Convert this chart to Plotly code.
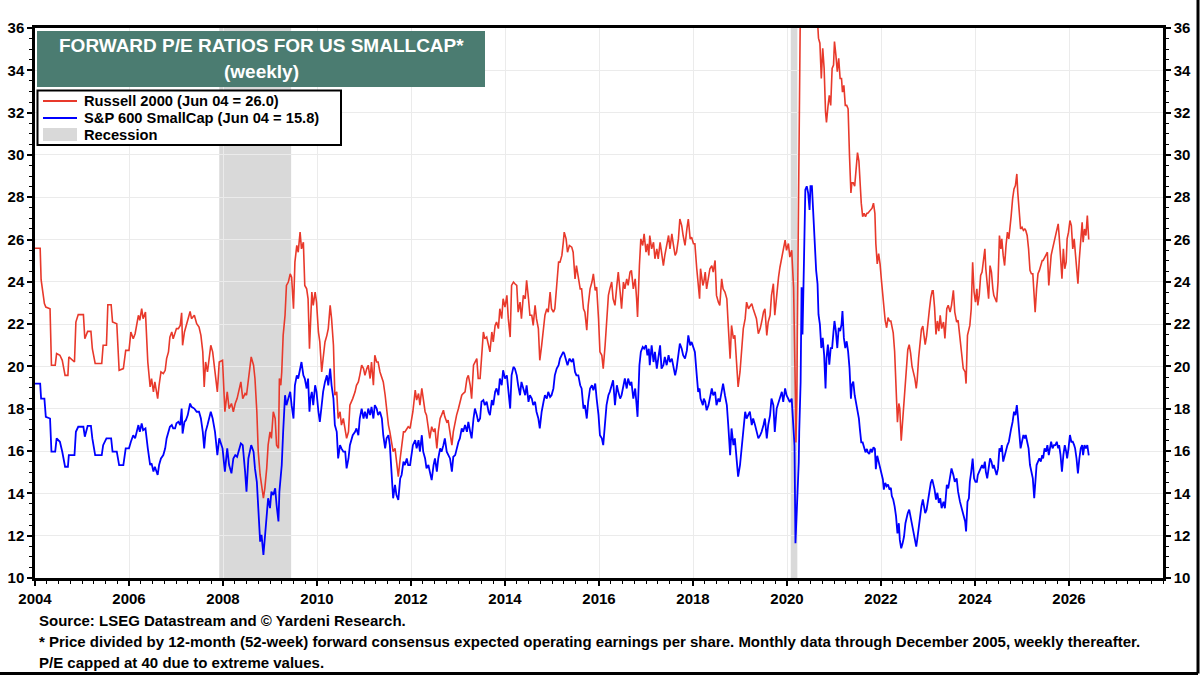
import plotly.graph_objects as go

# Forward P/E. Monthly through 2005, weekly after.
# x values are decimal years.
weeks_2004_2007 = [
    2004.00, 2004.11, 2004.13, 2004.20, 2004.23, 2004.32, 2004.35, 2004.43, 2004.46, 2004.53,
    2004.58, 2004.64, 2004.70, 2004.72, 2004.84, 2004.87, 2004.92, 2005.03, 2005.06, 2005.12,
    2005.19, 2005.22, 2005.28, 2005.42, 2005.45, 2005.52, 2005.55, 2005.62, 2005.65, 2005.74,
    2005.79, 2005.88, 2005.93, 2006.00, 2006.04, 2006.09, 2006.13, 2006.16, 2006.20, 2006.23,
    2006.27, 2006.30, 2006.35, 2006.40, 2006.45, 2006.48, 2006.52, 2006.55, 2006.61, 2006.64,
    2006.68, 2006.73, 2006.77, 2006.80, 2006.84, 2006.87, 2006.91, 2006.94, 2006.98, 2007.01,
    2007.05, 2007.09, 2007.12, 2007.14, 2007.18, 2007.21, 2007.25, 2007.30, 2007.33, 2007.39,
    2007.44, 2007.49, 2007.53, 2007.57, 2007.60, 2007.63, 2007.67, 2007.70, 2007.74, 2007.78,
    2007.83, 2007.88, 2007.92,
]
russell_2004_2007 = [
    25.59, 25.59, 24.10, 22.97, 22.81, 22.73, 20.06, 20.06, 20.61, 20.53,
    20.29, 19.58, 19.58, 20.45, 20.21, 22.10, 22.45, 22.45, 21.31, 21.66,
    21.66, 20.84, 20.14, 20.14, 21.00, 21.00, 22.92, 22.92, 22.10, 22.02,
    19.82, 19.90, 20.76, 20.76, 21.63, 21.31, 21.55, 21.94, 22.42, 22.18,
    22.73, 22.26, 22.57, 20.21, 19.03, 19.43, 18.80, 19.27, 18.48, 19.11,
    19.74, 19.66, 19.82, 20.37, 20.69, 21.39, 21.63, 21.31, 21.55, 21.79,
    21.79, 21.94, 22.54, 21.00, 21.63, 21.86, 22.18, 22.60, 22.26, 22.42,
    22.02, 21.86, 21.47, 20.69, 19.03, 20.21, 19.74, 20.37, 21.00, 20.69,
    19.74, 18.80, 20.21,
]
sp600_2004_2007 = [
    19.19, 19.19, 18.48, 18.48, 17.62, 17.54, 15.97, 15.97, 16.60, 16.44,
    15.97, 15.26, 15.26, 15.81, 15.81, 16.91, 17.15, 17.15, 16.68, 17.19,
    17.19, 16.60, 15.81, 15.81, 16.28, 16.60, 16.60, 16.60, 15.97, 15.97,
    15.34, 15.34, 16.13, 16.13, 16.44, 16.75, 16.60, 16.91, 17.23, 16.91,
    17.31, 16.99, 17.07, 16.13, 15.34, 15.42, 15.03, 15.26, 14.87, 15.34,
    15.65, 15.81, 16.13, 16.60, 16.91, 17.15, 17.23, 17.07, 17.07, 17.31,
    17.38, 17.23, 18.01, 16.83, 17.38, 17.46, 17.70, 18.25, 18.09, 18.01,
    17.86, 17.86, 17.54, 16.91, 16.13, 16.91, 17.23, 17.54, 17.86, 17.54,
    16.91, 15.81, 16.60,
]

weeks_2008_2011 = [
    2007.99, 2008.04, 2008.09, 2008.13, 2008.18, 2008.22, 2008.26, 2008.30, 2008.38, 2008.42,
    2008.47, 2008.50, 2008.54, 2008.60, 2008.65, 2008.68, 2008.72, 2008.75, 2008.79, 2008.82,
    2008.86, 2008.89, 2008.93, 2008.96, 2009.00, 2009.03, 2009.07, 2009.11, 2009.14, 2009.18,
    2009.20, 2009.23, 2009.25, 2009.28, 2009.32, 2009.35, 2009.39, 2009.43, 2009.46, 2009.50,
    2009.53, 2009.57, 2009.60, 2009.64, 2009.67, 2009.71, 2009.74, 2009.78, 2009.81, 2009.84,
    2009.86, 2009.89, 2009.92, 2009.96, 2009.99, 2010.03, 2010.06, 2010.10, 2010.13, 2010.17,
    2010.21, 2010.24, 2010.28, 2010.31, 2010.35, 2010.38, 2010.42, 2010.45, 2010.49, 2010.52,
    2010.56, 2010.60, 2010.63, 2010.67, 2010.70, 2010.76, 2010.81, 2010.84, 2010.88, 2010.91,
    2010.95, 2010.99, 2011.02, 2011.06, 2011.09, 2011.13, 2011.16, 2011.20, 2011.23, 2011.27,
    2011.30, 2011.34, 2011.38, 2011.41, 2011.45, 2011.48, 2011.52, 2011.55, 2011.59, 2011.62,
    2011.66, 2011.69, 2011.73, 2011.77, 2011.80, 2011.84, 2011.87, 2011.91, 2011.94,
]
russell_2008_2011 = [
    20.29, 17.86, 18.80, 18.01, 18.25, 17.86, 18.25, 18.48, 19.27, 18.48,
    18.72, 18.64, 19.43, 20.45, 20.06, 19.43, 17.86, 15.97, 14.87, 14.40,
    13.77, 14.24, 15.18, 16.28, 16.91, 16.60, 17.86, 17.54, 16.28, 16.13,
    19.43, 19.11, 19.74, 21.47, 22.42, 23.83, 23.99, 24.38, 24.22, 22.73,
    24.93, 25.72, 25.40, 26.35, 25.56, 25.87, 23.83, 23.67, 23.20, 20.84,
    22.26, 23.52, 22.89, 23.52, 23.04, 21.63, 21.16, 19.74, 20.37, 21.16,
    21.47, 21.79, 22.89, 22.26, 21.00, 18.64, 18.80, 17.54, 17.86, 17.23,
    17.54, 16.91, 16.60, 16.91, 18.17, 18.48, 18.80, 19.11, 19.27, 19.58,
    20.06, 19.90, 19.58, 19.90, 20.06, 19.43, 20.21, 19.11, 20.53, 20.21,
    20.21, 19.74, 19.43, 19.27, 18.64, 17.86, 17.23, 16.91, 16.44, 15.97,
    16.13, 15.50, 14.79, 15.65, 16.28, 16.91, 16.91, 17.07, 17.15,
]
sp600_2008_2011 = [
    16.13, 15.03, 16.13, 15.34, 14.95, 15.65, 15.81, 15.73, 16.36, 16.28,
    15.03, 14.08, 15.65, 16.28, 15.97, 15.18, 14.55, 13.14, 11.72, 12.04,
    11.09, 11.88, 13.14, 13.77, 13.30, 14.08, 13.92, 14.24, 13.45, 12.67,
    14.08, 14.87, 15.34, 16.91, 18.64, 18.17, 18.48, 18.80, 18.17, 17.54,
    19.11, 19.58, 19.43, 19.90, 20.21, 19.58, 19.43, 18.96, 19.43, 17.86,
    18.48, 18.80, 18.17, 19.11, 18.80, 17.86, 17.38, 18.17, 18.80, 19.27,
    19.58, 19.11, 19.90, 19.11, 18.48, 17.23, 16.91, 15.65, 16.28, 16.13,
    15.97, 15.97, 15.18, 15.65, 16.28, 16.75, 16.91, 17.07, 16.75, 17.54,
    18.01, 17.54, 17.86, 17.54, 18.01, 17.70, 18.09, 17.54, 18.17, 18.01,
    17.70, 17.86, 17.54, 16.75, 16.13, 16.60, 16.75, 16.28, 15.03, 13.77,
    14.40, 13.92, 13.69, 14.71, 14.87, 15.50, 15.34, 15.65, 15.34,
]

weeks_2012_2016 = [
    2011.98, 2012.04, 2012.09, 2012.12, 2012.16, 2012.19, 2012.23, 2012.26, 2012.30, 2012.33,
    2012.37, 2012.40, 2012.44, 2012.48, 2012.51, 2012.55, 2012.58, 2012.62, 2012.65, 2012.69,
    2012.72, 2012.76, 2012.79, 2012.83, 2012.87, 2012.90, 2012.94, 2012.97, 2013.01, 2013.04,
    2013.08, 2013.11, 2013.15, 2013.19, 2013.22, 2013.26, 2013.29, 2013.33, 2013.36, 2013.40,
    2013.43, 2013.47, 2013.50, 2013.54, 2013.57, 2013.61, 2013.65, 2013.68, 2013.72, 2013.75,
    2013.79, 2013.82, 2013.86, 2013.89, 2013.93, 2013.96, 2014.00, 2014.04, 2014.07, 2014.11,
    2014.14, 2014.18, 2014.21, 2014.25, 2014.28, 2014.32, 2014.35, 2014.39, 2014.43, 2014.46,
    2014.50, 2014.53, 2014.57, 2014.60, 2014.64, 2014.67, 2014.71, 2014.74, 2014.78, 2014.82,
    2014.85, 2014.89, 2014.92, 2014.96, 2014.99, 2015.03, 2015.06, 2015.10, 2015.14, 2015.17,
    2015.21, 2015.24, 2015.26, 2015.30, 2015.33, 2015.37, 2015.42, 2015.45, 2015.49, 2015.52,
    2015.56, 2015.60, 2015.63, 2015.67, 2015.70, 2015.74, 2015.77, 2015.81, 2015.85, 2015.88,
    2015.92, 2015.95, 2015.99, 2016.02, 2016.06, 2016.09, 2016.13, 2016.16,
]
russell_2012_2016 = [
    17.07, 17.86, 18.88, 18.41, 18.72, 18.17, 18.96, 18.48, 17.86, 17.70,
    16.91, 16.60, 17.15, 16.91, 17.07, 16.13, 16.91, 17.54, 17.70, 17.93,
    17.62, 17.38, 17.46, 16.91, 16.28, 16.91, 17.38, 17.70, 18.01, 18.33,
    18.64, 18.72, 18.80, 19.43, 19.58, 19.11, 18.48, 20.06, 20.21, 20.37,
    19.43, 19.43, 20.37, 21.63, 21.31, 21.39, 21.00, 20.69, 21.63, 21.16,
    21.94, 22.10, 21.79, 22.73, 22.26, 23.20, 22.81, 23.36, 22.26, 21.39,
    23.83, 23.99, 23.91, 23.83, 22.57, 23.04, 22.26, 23.36, 23.20, 24.07,
    23.20, 22.42, 22.42, 21.94, 22.89, 22.26, 21.79, 20.29, 21.00, 22.02,
    22.42, 22.73, 22.57, 23.52, 22.73, 22.57, 22.73, 23.83, 24.93, 24.93,
    25.25, 25.87, 26.35, 26.03, 25.40, 25.72, 25.64, 25.40, 24.14, 24.77,
    24.30, 23.67, 23.67, 22.73, 22.57, 21.71, 22.89, 23.67, 23.99, 24.38,
    23.59, 23.75, 22.26, 20.69, 20.53, 19.90, 21.00, 22.26,
]
sp600_2012_2016 = [
    15.34, 16.28, 16.52, 16.13, 16.52, 15.97, 16.75, 15.97, 15.65, 15.18,
    15.34, 15.03, 14.63, 15.34, 15.65, 15.03, 15.65, 16.13, 15.97, 16.28,
    16.60, 15.97, 15.81, 15.65, 15.03, 15.73, 15.81, 16.13, 16.44, 16.60,
    17.07, 16.91, 17.23, 16.91, 17.38, 16.91, 16.60, 17.54, 18.01, 17.70,
    17.38, 17.54, 18.33, 18.41, 18.17, 18.33, 17.86, 17.70, 18.41, 18.17,
    18.80, 18.96, 18.64, 19.43, 19.11, 19.82, 19.43, 19.58, 18.80, 18.01,
    19.58, 19.98, 19.90, 19.58, 19.11, 18.64, 19.27, 18.96, 18.64, 19.11,
    18.33, 18.64, 18.48, 18.17, 18.33, 17.86, 17.54, 17.07, 17.86, 18.33,
    18.64, 18.48, 18.80, 18.56, 18.64, 18.96, 19.58, 19.90, 20.06, 20.37,
    20.53, 20.69, 20.61, 20.29, 20.06, 20.37, 20.21, 20.37, 19.74, 19.58,
    19.58, 19.11, 18.96, 18.01, 18.17, 17.54, 18.33, 18.96, 19.11, 18.88,
    19.19, 18.48, 17.70, 16.75, 16.60, 16.28, 17.23, 18.17,
]

weeks_2016_2019 = [
    2016.20, 2016.23, 2016.27, 2016.30, 2016.34, 2016.38, 2016.41, 2016.45, 2016.48, 2016.52,
    2016.55, 2016.59, 2016.62, 2016.66, 2016.69, 2016.73, 2016.77, 2016.80, 2016.82, 2016.86,
    2016.89, 2016.93, 2016.96, 2017.00, 2017.03, 2017.06, 2017.08, 2017.12, 2017.16, 2017.19,
    2017.23, 2017.26, 2017.30, 2017.33, 2017.37, 2017.40, 2017.44, 2017.48, 2017.51, 2017.55,
    2017.58, 2017.62, 2017.65, 2017.69, 2017.72, 2017.76, 2017.79, 2017.83, 2017.87, 2017.90,
    2017.94, 2017.97, 2018.01, 2018.04, 2018.08, 2018.11, 2018.14, 2018.16, 2018.21, 2018.23,
    2018.26, 2018.29, 2018.33, 2018.36, 2018.40, 2018.43, 2018.47, 2018.50, 2018.54, 2018.57,
    2018.61, 2018.64, 2018.68, 2018.72, 2018.75, 2018.79, 2018.82, 2018.86, 2018.89, 2018.93,
    2018.96, 2019.00, 2019.04, 2019.07, 2019.11, 2019.14, 2019.18, 2019.21, 2019.25, 2019.28,
    2019.32, 2019.35, 2019.39, 2019.43, 2019.46, 2019.50, 2019.53, 2019.57, 2019.60, 2019.64,
    2019.67, 2019.71, 2019.74, 2019.78, 2019.82,
]
russell_2016_2019 = [
    23.36, 23.67, 23.99, 23.20, 22.89, 23.83, 24.46, 23.52, 22.73, 23.99,
    23.67, 24.14, 23.83, 24.46, 24.54, 23.67, 24.14, 23.20, 22.34, 24.77,
    26.03, 25.72, 26.27, 25.40, 25.80, 25.25, 26.19, 25.56, 25.87, 25.09,
    25.56, 25.09, 25.87, 25.40, 24.77, 25.25, 25.72, 26.19, 25.56, 26.27,
    25.80, 25.25, 25.40, 26.03, 26.97, 26.66, 26.19, 25.72, 26.50, 26.97,
    26.03, 26.11, 25.80, 25.80, 24.62, 23.67, 23.20, 24.62, 23.83, 23.99,
    24.46, 23.67, 24.14, 24.62, 24.77, 24.46, 25.01, 23.36, 23.04, 22.89,
    24.14, 23.67, 23.52, 23.20, 21.94, 20.37, 21.94, 21.31, 21.47, 20.21,
    19.03, 19.74, 21.00, 21.79, 22.26, 23.04, 22.73, 22.81, 22.97, 22.73,
    22.42, 22.26, 21.55, 21.79, 22.10, 22.57, 22.73, 21.47, 22.10, 22.42,
    23.36, 23.91, 22.42, 23.52, 24.22,
]
sp600_2016_2019 = [
    18.64, 18.80, 19.11, 19.35, 18.17, 19.11, 18.80, 18.48, 18.64, 19.11,
    19.43, 18.96, 19.43, 19.11, 19.27, 18.48, 18.96, 18.17, 17.62, 20.06,
    20.69, 20.92, 20.84, 21.00, 20.53, 20.84, 20.06, 21.00, 20.21, 20.69,
    19.90, 20.37, 21.00, 19.90, 20.06, 20.45, 20.06, 20.53, 20.21, 20.37,
    20.06, 19.58, 19.90, 20.53, 21.08, 20.84, 20.53, 20.37, 20.76, 21.47,
    21.00, 21.16, 20.84, 20.69, 19.58, 18.80, 18.96, 18.48, 18.17, 18.48,
    18.33, 17.93, 18.17, 18.48, 18.96, 18.64, 18.80, 18.17, 18.48, 18.33,
    18.96, 19.19, 18.64, 18.17, 17.23, 15.81, 17.07, 16.28, 16.60, 15.65,
    14.79, 15.34, 16.28, 17.07, 17.86, 17.54, 17.70, 17.86, 17.23, 17.54,
    17.23, 16.91, 16.60, 16.75, 16.91, 17.23, 17.54, 16.60, 17.23, 17.70,
    18.48, 18.17, 16.91, 18.01, 18.33,
]

# Russell 2000 is capped at 40 in mid-2020 (above the 36 axis top)
weeks_2020_2023 = [
    2019.85, 2019.89, 2019.92, 2019.96, 2019.99, 2020.03, 2020.06, 2020.10, 2020.14, 2020.16,
    2020.18, 2020.19, 2020.21, 2020.22, 2020.23, 2020.25, 2020.26, 2020.28, 2020.29, 2020.31,
    2020.33, 2020.36, 2020.39, 2020.42, 2020.45, 2020.48, 2020.50, 2020.53, 2020.56, 2020.59,
    2020.62, 2020.65, 2020.67, 2020.70, 2020.73, 2020.76, 2020.79, 2020.82, 2020.84, 2020.87,
    2020.90, 2020.93, 2020.96, 2020.99, 2021.01, 2021.04, 2021.07, 2021.10, 2021.13, 2021.16,
    2021.18, 2021.21, 2021.24, 2021.27, 2021.30, 2021.33, 2021.36, 2021.38, 2021.41, 2021.44,
    2021.47, 2021.50, 2021.53, 2021.55, 2021.58, 2021.61, 2021.64, 2021.67, 2021.70, 2021.72,
    2021.75, 2021.78, 2021.81, 2021.84, 2021.87, 2021.89, 2021.92, 2021.95, 2021.98, 2022.01,
    2022.04, 2022.06, 2022.09, 2022.12, 2022.15, 2022.18, 2022.21, 2022.23, 2022.26, 2022.29,
    2022.32, 2022.35, 2022.38, 2022.40, 2022.43, 2022.46, 2022.49, 2022.52, 2022.55, 2022.57,
    2022.60, 2022.63, 2022.66, 2022.69, 2022.72, 2022.75, 2022.77, 2022.80, 2022.83, 2022.86,
    2022.89, 2022.92, 2022.94, 2022.97, 2023.00, 2023.03, 2023.06, 2023.09, 2023.11, 2023.14,
    2023.17, 2023.20, 2023.23,
]
russell_2020_2023 = [
    24.69, 25.17, 25.49, 25.97, 25.49, 25.81, 25.17, 25.49, 23.74, 21.67,
    18.48, 16.41, 18.48, 21.67, 24.85, 28.04, 32.02, 36.00, 38.00, 40.00,
    40.00, 40.00, 40.00, 40.00, 40.00, 40.00, 40.00, 40.00, 40.00, 40.00,
    37.50, 36.00, 35.52, 35.28, 33.61, 35.04, 34.09, 32.02, 31.54, 32.26,
    32.82, 32.34, 34.09, 34.25, 35.36, 34.73, 33.93, 34.57, 33.61, 33.61,
    32.97, 33.29, 32.34, 32.34, 32.18, 29.95, 28.20, 28.68, 28.68, 28.52,
    29.31, 30.11, 29.71, 28.68, 27.72, 27.08, 27.24, 27.08, 27.24, 27.24,
    27.32, 27.40, 27.48, 27.72, 27.24, 25.81, 24.85, 25.33, 24.85, 24.06,
    23.10, 22.86, 22.15, 21.83, 22.31, 22.15, 22.15, 21.83, 21.59, 20.71,
    18.64, 17.37, 18.25, 18.01, 16.49, 17.53, 18.48, 19.28, 20.32, 20.79,
    21.03, 20.63, 20.00, 19.76, 19.44, 18.96, 19.36, 20.39, 21.03, 21.75,
    21.91, 21.43, 21.03, 21.43, 22.23, 22.70, 23.26, 23.58, 23.58, 22.78,
    21.51, 22.15, 21.67,
]
sp600_2020_2023 = [
    18.48, 18.80, 18.32, 18.96, 18.64, 18.48, 18.32, 18.48, 17.05, 16.25,
    11.64, 12.11, 12.91, 13.55, 14.03, 15.46, 16.89, 18.17, 19.28, 23.74,
    21.51, 24.85, 28.36, 28.52, 28.20, 27.40, 28.52, 28.52, 27.08, 25.97,
    24.54, 23.90, 22.46, 21.99, 20.87, 21.35, 20.55, 18.96, 20.39, 21.03,
    20.08, 20.87, 20.87, 21.67, 22.15, 21.67, 20.87, 21.83, 21.67, 21.99,
    22.62, 21.35, 20.87, 21.19, 20.71, 19.92, 18.48, 19.12, 19.28, 18.64,
    18.32, 17.85, 17.53, 17.05, 16.41, 16.41, 16.18, 15.94, 16.10, 15.94,
    15.86, 16.10, 15.94, 16.18, 16.10, 15.14, 15.78, 15.46, 15.14, 14.98,
    14.66, 14.18, 14.50, 14.34, 14.42, 14.18, 14.26, 13.87, 13.71, 13.39,
    12.91, 12.11, 12.59, 11.80, 11.40, 11.64, 11.96, 12.59, 12.91, 13.07,
    13.23, 12.91, 12.43, 12.11, 11.80, 11.48, 11.80, 12.43, 13.07, 13.39,
    13.71, 13.39, 13.07, 13.23, 13.71, 14.18, 14.50, 14.66, 14.50, 14.18,
    13.71, 14.03, 13.55,
]

weeks_2023_2026 = [
    2023.26, 2023.29, 2023.33, 2023.36, 2023.40, 2023.43, 2023.47, 2023.50, 2023.54, 2023.57,
    2023.61, 2023.64, 2023.68, 2023.72, 2023.75, 2023.79, 2023.81, 2023.84, 2023.87, 2023.89,
    2023.92, 2023.95, 2023.98, 2024.01, 2024.04, 2024.06, 2024.09, 2024.12, 2024.15, 2024.18,
    2024.21, 2024.23, 2024.26, 2024.29, 2024.32, 2024.35, 2024.38, 2024.40, 2024.43, 2024.46,
    2024.49, 2024.52, 2024.55, 2024.57, 2024.60, 2024.63, 2024.66, 2024.69, 2024.72, 2024.74,
    2024.77, 2024.80, 2024.83, 2024.86, 2024.89, 2024.91, 2024.94, 2024.97, 2025.00, 2025.03,
    2025.06, 2025.08, 2025.11, 2025.14, 2025.17, 2025.20, 2025.23, 2025.26, 2025.28, 2025.31,
    2025.34, 2025.37, 2025.40, 2025.43, 2025.45, 2025.48, 2025.51, 2025.54, 2025.57, 2025.60,
    2025.62, 2025.65, 2025.68, 2025.71, 2025.74, 2025.77, 2025.79, 2025.82, 2025.85, 2025.88,
    2025.91, 2025.94, 2025.96, 2025.99, 2026.02, 2026.05, 2026.08, 2026.11, 2026.13, 2026.16,
    2026.19, 2026.22, 2026.25, 2026.28, 2026.30, 2026.33, 2026.36, 2026.39, 2026.42,
]
russell_2023_2026 = [
    22.42, 21.79, 22.10, 21.32, 22.73, 22.89, 22.57, 22.89, 23.60, 22.57,
    22.10, 22.18, 21.32, 20.69, 19.90, 19.74, 19.19, 21.47, 21.79, 21.94,
    22.73, 24.93, 23.52, 23.04, 23.67, 22.89, 23.36, 24.30, 24.46, 25.09,
    25.56, 24.62, 23.67, 23.20, 24.77, 24.46, 23.67, 23.36, 23.20, 23.04,
    23.99, 26.19, 25.56, 26.03, 25.25, 24.77, 25.72, 26.35, 26.03, 26.66,
    27.13, 27.92, 28.39, 28.55, 29.10, 28.23, 27.13, 26.50, 26.58, 26.43,
    26.50, 26.43, 26.19, 25.56, 24.54, 24.38, 24.38, 23.04, 22.57, 23.67,
    24.38, 24.54, 24.77, 25.01, 25.01, 25.17, 25.32, 25.40, 23.83, 24.77,
    25.25, 25.56, 25.87, 26.03, 26.50, 26.74, 26.19, 25.09, 24.15, 25.56,
    24.62, 24.93, 26.03, 26.35, 26.90, 26.66, 25.56, 26.03, 25.56, 24.77,
    23.91, 25.09, 26.03, 26.82, 25.87, 26.50, 26.19, 27.13, 26.00,
]
sp600_2023_2026 = [
    13.77, 13.30, 13.61, 13.30, 14.40, 14.24, 14.71, 15.18, 14.87, 14.55,
    14.71, 14.08, 13.61, 13.30, 12.98, 12.67, 12.20, 13.61, 13.77, 14.55,
    15.03, 15.65, 14.71, 14.55, 14.55, 14.87, 15.03, 15.18, 15.34, 15.18,
    15.50, 15.03, 14.71, 15.18, 15.65, 15.50, 15.18, 15.34, 15.03, 14.87,
    15.18, 16.13, 15.97, 16.28, 15.50, 15.81, 16.13, 16.28, 16.44, 16.76,
    17.07, 17.38, 17.86, 17.70, 18.17, 17.70, 16.76, 16.13, 16.44, 16.76,
    16.60, 16.76, 16.44, 16.13, 15.34, 15.03, 14.71, 13.77, 14.55, 15.34,
    15.50, 15.65, 15.50, 15.81, 15.65, 16.13, 15.97, 16.28, 15.81, 16.13,
    16.44, 16.13, 16.28, 16.28, 16.44, 16.13, 16.28, 15.81, 15.03, 15.81,
    16.28, 15.97, 15.65, 16.13, 16.76, 16.44, 16.44, 16.28, 16.13, 15.65,
    14.95, 15.65, 16.13, 16.28, 15.81, 16.28, 16.13, 16.28, 15.80,
]

recession_start = [2007.92, 2020.08]
recession_end = [2009.45, 2020.22]

year_ticks = [2004, 2006, 2008, 2010, 2012, 2014, 2016, 2018, 2020, 2022, 2024, 2026]
pe_ticks = [10, 12, 14, 16, 18, 20, 22, 24, 26, 28, 30, 32, 34, 36]

series_names = ['Russell 2000 (Jun 04 = 26.0)', 'S&P 600 SmallCap (Jun 04 = 15.8)', 'Recession']

weeks, russell_2000, sp600_smallcap = [], [], []
for w, r, s in [
    (weeks_2004_2007, russell_2004_2007, sp600_2004_2007),
    (weeks_2008_2011, russell_2008_2011, sp600_2008_2011),
    (weeks_2012_2016, russell_2012_2016, sp600_2012_2016),
    (weeks_2016_2019, russell_2016_2019, sp600_2016_2019),
    (weeks_2020_2023, russell_2020_2023, sp600_2020_2023),
    (weeks_2023_2026, russell_2023_2026, sp600_2023_2026),
]:
    assert len(w) == len(r) == len(s), (w[0], len(w), len(r), len(s))
    weeks += w
    russell_2000 += r
    sp600_smallcap += s

FONT = "Liberation Sans, Arial, sans-serif"
RED = "#e8392b"
BLUE = "#0000ff"
GREEN = "#4b7c71"
GREY = "#d9d9d9"

fig = go.Figure()
fig.add_trace(go.Scatter(
    x=weeks, y=russell_2000, mode='lines', name=series_names[0],
    line=dict(color=RED, width=1.6), showlegend=False
))
# S&P 600 goes on the right-hand axis (same 10-36 scale) so both sides get labels
fig.add_trace(go.Scatter(
    x=weeks, y=sp600_smallcap, mode='lines', name=series_names[1], yaxis='y2',
    line=dict(color=BLUE, width=1.8), showlegend=False
))

for start, end in zip(recession_start, recession_end):
    fig.add_shape(type='rect', xref='x', yref='paper', x0=start, x1=end, y0=0, y1=1,
                  fillcolor=GREY, line=dict(width=0), layer='between')


# helper: pixel position in the 1200x675 page -> paper coords
# (plot area is 35..1163 px across, 28..578 px down)
def px(x):
    return (x - 35) / 1128


def py(y):
    return (578 - y) / 550


# title banner
fig.add_shape(type='rect', xref='paper', yref='paper',
              x0=px(37), x1=px(485), y0=py(87), y1=py(31),
              fillcolor=GREEN, line=dict(width=0), layer='above')
for text, y in [('FORWARD P/E RATIOS FOR US SMALLCAP*', 46), ('(weekly)', 72)]:
    fig.add_annotation(text=text, xref='paper', yref='paper', x=px(261), y=py(y),
                       xanchor='center', yanchor='middle', showarrow=False,
                       font=dict(family=FONT, size=19, color='white', weight='bold'))

# legend box
fig.add_shape(type='rect', xref='paper', yref='paper',
              x0=px(37.5), x1=px(341), y0=py(145), y1=py(90.5),
              fillcolor='white', line=dict(color='black', width=2), layer='above')
legend_rows = [101, 118, 134.5]
for name, color, y in zip(series_names[:2], [RED, BLUE], legend_rows[:2]):
    fig.add_shape(type='line', xref='paper', yref='paper', x0=px(43), x1=px(77),
                  y0=py(y), y1=py(y), line=dict(color=color, width=1.8), layer='above')
fig.add_shape(type='rect', xref='paper', yref='paper', x0=px(43), x1=px(77),
              y0=py(141), y1=py(128), fillcolor=GREY, line=dict(width=0), layer='above')
for name, y in zip(series_names, legend_rows):
    fig.add_annotation(text=name, xref='paper', yref='paper', x=px(82), y=py(y),
                       xanchor='left', yanchor='middle', showarrow=False,
                       font=dict(family=FONT, size=14.7, color='black', weight='bold'))

# outer frame, right and bottom edges
fig.add_shape(type='line', xref='paper', yref='paper', x0=px(-10), x1=px(1198),
              y0=py(673.5), y1=py(673.5), line=dict(color='black', width=3))
fig.add_shape(type='line', xref='paper', yref='paper', x0=px(1198), x1=px(1198),
              y0=py(673.5), y1=py(-10), line=dict(color='black', width=3))

footer = [
    'Source: LSEG Datastream and \u00a9 Yardeni Research.',
    '* Price divided by 12-month (52-week) forward consensus expected operating earnings per share. '
    'Monthly data through December 2005, weekly thereafter.',
    'P/E capped at 40 due to extreme values.',
]
for line, y in zip(footer, [620, 641, 662]):
    fig.add_annotation(text=line, xref='paper', yref='paper', x=px(37), y=py(y),
                       xanchor='left', yanchor='middle', showarrow=False, align='left',
                       font=dict(family=FONT, size=15, color='black', weight='bold'))

axis_font = dict(family=FONT, size=15, color='black', weight='bold')
y_common = dict(
    range=[10, 36], tickmode='array', tickvals=pe_ticks, tickfont=axis_font,
    zeroline=False, automargin=False,
    showline=True, linecolor='black', linewidth=2.5,
    ticks='outside', ticklen=5, tickwidth=1.5, tickcolor='black',
    minor=dict(tick0=10, dtick=0.5, ticks='outside', ticklen=3,
               tickcolor='black', tickwidth=1, showgrid=False)
)
fig.update_layout(
    width=1200, height=675,
    margin=dict(l=35, r=37, t=28, b=97, autoexpand=False),
    paper_bgcolor='white', plot_bgcolor='white',
    font=dict(family=FONT, color='black'),
    showlegend=False,
    hovermode=False,
    xaxis=dict(
        range=[2004, 2028], tickmode='array', tickvals=year_ticks,
        ticktext=[str(y) for y in year_ticks], tickfont=axis_font,
        showgrid=True, gridcolor='#ebebeb', gridwidth=1, zeroline=False,
        automargin=False,
        showline=True, linecolor='black', linewidth=2.5, mirror=True,
        ticks='outside', ticklen=5, tickwidth=1.5, tickcolor='black',
        minor=dict(tick0=2004, dtick=0.25, ticks='outside', ticklen=3,
                   tickcolor='black', tickwidth=1, showgrid=False)
    ),
    yaxis=dict(showgrid=True, gridcolor='#ebebeb', gridwidth=1, side='left', **y_common),
    yaxis2=dict(showgrid=False, overlaying='y', side='right', **y_common),
)

# drop the browser's default 8px body margin so the figure sits at the page corner
fig.write_html("out.html", config={'displayModeBar': False},
               post_script="document.body.style.margin = '0px';")
